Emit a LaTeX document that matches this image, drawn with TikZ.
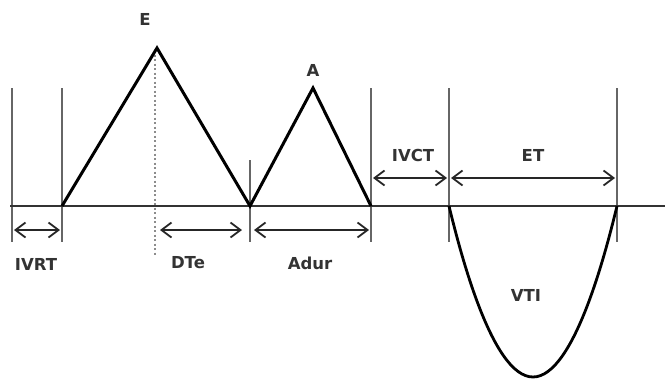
\documentclass[tikz,border=0pt]{standalone}
\usepackage{fontspec}
\setmainfont{DejaVu Sans}
\usetikzlibrary{arrows.meta}

\tikzset{
  marker/.style={draw=black!60, line width=1.4pt},
  wave/.style={draw=black, line width=3pt, line join=miter},
  span/.style={draw=black!85, line width=1.8pt,
    {Straight Barb[length=10pt,width=15pt]}-{Straight Barb[length=10pt,width=15pt]}},
  lbl/.style={font=\fontsize{16.5}{18}\selectfont\bfseries, text=black!80},
}

\begin{document}
\begin{tikzpicture}[x=1pt,y=-1pt]
\useasboundingbox (0,0) rectangle (665,380);

% Points of the trace
\coordinate (start) at (10,206);
\coordinate (stop) at (665,206);
\coordinate (Eon) at (62,206);
\coordinate (Epk) at (157,48);
\coordinate (Eoff) at (250,206);
\coordinate (Apk) at (313,88);
\coordinate (Aoff) at (371,206);
\coordinate (Son) at (449,206);
\coordinate (Sbot) at (533,377);
\coordinate (Soff) at (617,206);

% Marker lines
\coordinate (m1t) at (12,88);   \coordinate (m1b) at (12,242);
\coordinate (m2t) at (62,88);   \coordinate (m2b) at (62,242);
\coordinate (m3t) at (250,160); \coordinate (m3b) at (250,242);
\coordinate (m4t) at (371,88);  \coordinate (m4b) at (371,242);
\coordinate (m5t) at (449,88);  \coordinate (m5b) at (449,242);
\coordinate (m6t) at (617,88);  \coordinate (m6b) at (617,242);
\coordinate (dtop) at (155,50); \coordinate (dbot) at (155,256);

\draw[marker] (m1t) -- (m1b);
\draw[marker] (m2t) -- (m2b);
\draw[marker] (m3t) -- (m3b);
\draw[marker] (m4t) -- (m4b);
\draw[marker] (m5t) -- (m5b);
\draw[marker] (m6t) -- (m6b);
\draw[draw=black!45, line width=2.2pt, dash pattern=on 2pt off 2.5pt] (dtop) -- (dbot);

% Baseline
\draw[draw=black!80, line width=1.8pt] (start) -- (stop);

% E and A waves, then the systolic wave
\draw[wave] (Eon) -- (Epk) -- (Eoff) -- (Apk) -- (Aoff);
\draw[wave, line width=2.8pt] (Son) parabola bend (Sbot) (Soff);

% Interval arrows
\coordinate (ivrtL) at (14,230); \coordinate (ivrtR) at (60,230);
\coordinate (dteL) at (160,230);  \coordinate (dteR) at (242,230);
\coordinate (adurL) at (254,230); \coordinate (adurR) at (369,230);
\coordinate (ivctL) at (373,178); \coordinate (ivctR) at (447,178);
\coordinate (etL) at (451,178);   \coordinate (etR) at (615,178);
\draw[span] (ivrtL) -- (ivrtR);
\draw[span] (dteL) -- (dteR);
\draw[span] (adurL) -- (adurR);
\draw[span] (ivctL) -- (ivctR);
\draw[span] (etL) -- (etR);

% Labels
\node[lbl] (lE) at (145,19) {E};
\node[lbl] (lA) at (313,70) {A};
\node[lbl] (lIVRT) at (36,264) {IVRT};
\node[lbl] (lDTe) at (188,263) {DTe};
\node[lbl] (lAdur) at (310,263) {Adur};
\node[lbl] (lIVCT) at (413,155) {IVCT};
\node[lbl] (lET) at (533,155) {ET};
\node[lbl] (lVTI) at (526,295) {VTI};
\end{tikzpicture}
\end{document}
